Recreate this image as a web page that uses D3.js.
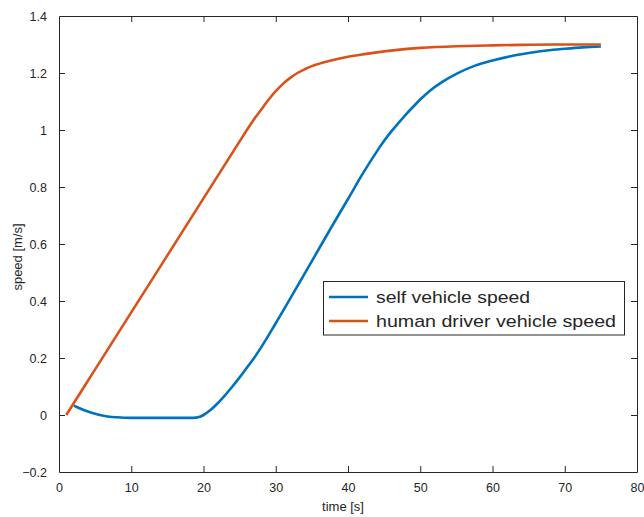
<!DOCTYPE html>
<html>
<head>
<meta charset="utf-8">
<script src="https://cdn.jsdelivr.net/npm/d3@7"></script>
<style>
  html, body { margin: 0; padding: 0; background: #fff; }
  svg { display: block; }
  text { font-family: "Liberation Sans", Arial, Helvetica, sans-serif; fill: #262626; }
</style>
</head>
<body>
<svg id="chart" width="644" height="517"></svg>
<script>
// Speed profiles (time in s, speed in m/s)
const humanTime  = [1, 5, 10, 15, 20, 25, 26, 27, 28, 29, 30, 31, 32, 33, 34, 35, 37.5, 40, 42.5, 45, 47.5, 50, 55, 60, 65, 70, 75];
const humanSpeed = [0, 0.16, 0.36, 0.56, 0.76, 0.96, 1.0, 1.038, 1.072, 1.106, 1.136, 1.162, 1.183, 1.2, 1.213, 1.224, 1.243, 1.257, 1.267, 1.276, 1.283, 1.288, 1.294, 1.297, 1.299, 1.3, 1.3];

const selfTime  = [2.06, 3, 4, 5, 6, 7, 8, 10, 14, 18.5, 19.5, 20, 21, 22, 23, 24, 25, 26, 27, 28, 30, 35, 37.5, 40, 42, 44, 45, 46, 47, 48, 49, 50, 51.3, 53, 55, 57.5, 60, 62.5, 65, 67.5, 70, 72.5, 75];
const selfSpeed = [0.033, 0.022, 0.012, 0.004, -0.002, -0.006, -0.008, -0.01, -0.01, -0.01, -0.006, 0.0, 0.018, 0.042, 0.07, 0.1, 0.132, 0.166, 0.2, 0.238, 0.322, 0.54, 0.65, 0.758, 0.845, 0.925, 0.962, 0.995, 1.025, 1.054, 1.081, 1.107, 1.137, 1.168, 1.197, 1.225, 1.244, 1.259, 1.27, 1.279, 1.285, 1.29, 1.293];

const xTicks = [0, 10, 20, 30, 40, 50, 60, 70, 80];
const yTicks = [-0.2, 0, 0.2, 0.4, 0.6, 0.8, 1, 1.2, 1.4];

const seriesNames  = ["self vehicle speed", "human driver vehicle speed"];
const seriesColors = ["#0072BD", "#D95319"];

const svg = d3.select("#chart");
const axisColor = "#262626";

const x = d3.scaleLinear().domain([0, 80]).range([59, 637]);
const y = d3.scaleLinear().domain([-0.2, 1.4]).range([472, 16]);

// axes with inward ticks on all four sides
const gB = svg.append("g").attr("transform", `translate(0,${y(-0.2)})`)
  .call(d3.axisBottom(x).tickValues(xTicks).tickSizeInner(-6).tickSizeOuter(0).tickPadding(11).tickFormat(d3.format("d")));
const gT = svg.append("g").attr("transform", `translate(0,${y(1.4)})`)
  .call(d3.axisTop(x).tickValues(xTicks).tickSizeInner(-6).tickSizeOuter(0).tickFormat(""));
const gL = svg.append("g").attr("transform", `translate(${x(0)},0)`)
  .call(d3.axisLeft(y).tickValues(yTicks).tickSizeInner(-6).tickSizeOuter(0).tickPadding(12).tickFormat(d => d === 0 ? "0" : d3.format("")(+d.toFixed(1))));
const gR = svg.append("g").attr("transform", `translate(${x(80)},0)`)
  .call(d3.axisRight(y).tickValues(yTicks).tickSizeInner(-6).tickSizeOuter(0).tickFormat(""));

[gB, gT, gL, gR].forEach(g => {
  g.selectAll("path.domain").attr("stroke", axisColor).attr("stroke-width", 1);
  g.selectAll(".tick line").attr("stroke", axisColor).attr("stroke-width", 1);
  g.selectAll(".tick text").attr("fill", axisColor)
    .style("font-family", '"Liberation Sans", Arial, sans-serif').style("font-size", "12.5px");
});
// drop tick marks that would sit on the box corners
gB.selectAll(".tick").filter(d => d === 0 || d === 80).select("line").remove();
gT.selectAll(".tick").filter(d => d === 0 || d === 80).select("line").remove();
gL.selectAll(".tick").filter(d => d === -0.2 || d === 1.4).select("line").remove();
gR.selectAll(".tick").filter(d => d === -0.2 || d === 1.4).select("line").remove();

// axis labels
svg.append("text").attr("x", 343).attr("y", 511).attr("text-anchor", "middle")
  .style("font-size", "13px").text("time [s]");
svg.append("text").attr("transform", "translate(22,257) rotate(-90)").attr("text-anchor", "middle")
  .style("font-size", "13px").text("speed [m/s]");

// series
const line = d3.line().x(d => x(d[0])).y(d => y(d[1])).curve(d3.curveMonotoneX);
const selfData  = selfTime.map((t, i) => [t, selfSpeed[i]]);
const humanData = humanTime.map((t, i) => [t, humanSpeed[i]]);

svg.append("path").datum(selfData).attr("d", line)
  .attr("fill", "none").attr("stroke", seriesColors[0]).attr("stroke-width", 2.6).attr("stroke-linejoin", "round");
svg.append("path").datum(humanData).attr("d", line)
  .attr("fill", "none").attr("stroke", seriesColors[1]).attr("stroke-width", 2.6).attr("stroke-linejoin", "round");

// legend
const leg = svg.append("g");
leg.append("rect").attr("x", 323.5).attr("y", 281.5).attr("width", 301).attr("height", 53.5)
  .attr("fill", "#fff").attr("stroke", axisColor).attr("stroke-width", 1);
const legWidths = [154, 240];
seriesNames.forEach((name, i) => {
  const cy = 297 + i * 24;
  leg.append("line").attr("x1", 329).attr("x2", 368).attr("y1", cy).attr("y2", cy)
    .attr("stroke", seriesColors[i]).attr("stroke-width", 2.6);
  leg.append("text").attr("x", 376).attr("y", cy + 6)
    .style("font-size", "17px")
    .attr("textLength", legWidths[i]).attr("lengthAdjust", "spacingAndGlyphs")
    .text(name);
});
</script>
</body>
</html>
